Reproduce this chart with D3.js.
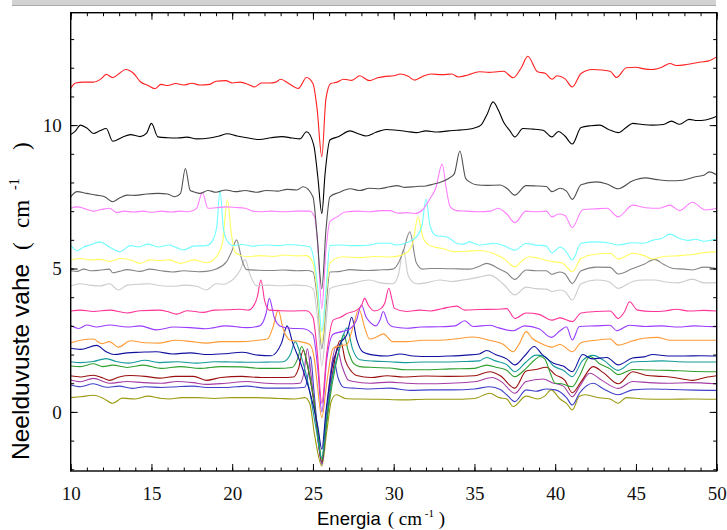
<!DOCTYPE html>
<html>
<head>
<meta charset="utf-8">
<script src="https://cdn.jsdelivr.net/npm/d3@7"></script>
<style>
  html, body { margin: 0; padding: 0; background: #fff; }
  svg { display: block; }
  .serif { font-family: 'Liberation Serif', 'Times New Roman', Times, 'DejaVu Serif', 'Noto Serif', serif; }
  .sans { font-family: 'Liberation Sans', Arial, sans-serif; }
</style>
</head>
<body>
<svg id="chart" width="727" height="530"></svg>
<script>
// ---- Data (energy cm^-1, absorption difference cm^-1) ----
const xTicks = [10, 15, 20, 25, 30, 35, 40, 45, 50];
const yTicks = [0, 5, 10];

const sRed = [[10,11.28],[10.3,11.47],[10.8,11.5],[11.4,11.5],[11.9,11.62],[12.2,11.77],[12.6,11.66],[13.0,11.8],[13.4,11.94],[13.9,11.8],[14.3,11.52],[14.8,11.38],[15.2,11.27],[15.6,11.42],[16.0,11.38],[16.5,11.45],[17.0,11.4],[17.5,11.46],[18.0,11.4],[18.6,11.42],[19.0,11.53],[19.6,11.55],[20.0,11.47],[20.5,11.5],[21.0,11.42],[21.4,11.33],[21.8,11.47],[22.3,11.47],[22.7,11.5],[23.0,11.6],[23.5,11.45],[24.1,11.28],[24.6,11.66],[25.0,11.45],[25.25,10.6],[25.55,8.9],[25.8,10.9],[26.1,11.45],[26.5,11.5],[26.9,11.6],[27.4,11.56],[27.9,11.72],[28.5,11.55],[29.0,11.65],[29.5,11.7],[30.0,11.72],[30.4,11.78],[30.9,11.7],[31.3,11.57],[31.8,11.7],[32.3,11.78],[33.0,11.76],[33.6,11.78],[34.0,11.68],[34.6,11.75],[35.3,11.86],[35.9,11.84],[36.4,11.86],[36.8,11.88],[37.4,11.65],[37.9,12.0],[38.3,12.4],[38.9,11.86],[39.4,11.8],[39.8,11.6],[40.1,11.72],[40.6,11.62],[41.06,11.33],[41.6,11.8],[42.3,11.94],[42.9,11.92],[43.4,11.88],[43.8,11.66],[44.4,12.0],[45.0,12.02],[45.5,11.96],[46.0,11.94],[46.6,12.02],[47.1,12.15],[47.5,12.08],[48.0,12.1],[48.5,12.15],[49.0,12.2],[49.5,12.24],[50,12.38]];
const sBlack = [[10,9.67],[10.3,9.8],[10.6,10.0],[11.0,9.9],[11.4,9.71],[11.8,9.8],[12.2,9.88],[12.6,9.44],[13.2,9.58],[13.7,9.67],[14.3,9.6],[14.7,9.72],[15.0,10.06],[15.4,9.59],[16.0,9.56],[16.6,9.55],[17.2,9.58],[17.8,9.52],[18.6,9.55],[19.2,9.62],[19.7,9.7],[20.3,9.62],[21.0,9.55],[21.7,9.5],[22.4,9.56],[23.1,9.6],[23.7,9.55],[24.2,9.52],[24.6,9.77],[25.05,9.3],[25.3,8.2],[25.55,6.92],[25.75,8.3],[26.05,9.48],[26.6,9.6],[27.3,9.8],[27.8,9.7],[28.3,9.62],[28.9,9.75],[29.55,9.85],[30.2,9.82],[30.8,9.78],[31.4,9.74],[32.0,9.8],[32.7,9.76],[33.4,9.8],[33.9,9.82],[34.5,9.85],[35.0,9.9],[35.4,10.0],[35.8,10.4],[36.15,10.81],[36.5,10.5],[36.8,10.11],[37.2,9.8],[37.5,9.59],[38.0,9.88],[38.6,9.86],[39.25,9.82],[39.8,9.59],[40.2,9.78],[40.6,9.62],[41.06,9.34],[41.6,9.92],[42.2,9.98],[42.75,10.0],[43.3,9.85],[43.9,9.74],[44.4,9.92],[44.8,10.06],[45.4,10.02],[46.0,10.0],[46.7,10.02],[47.2,10.14],[47.7,10.03],[48.3,10.2],[48.8,10.16],[49.3,10.18],[50,10.31]];
const sDarkGrey = [[10,7.5],[10.4,7.68],[11.0,7.62],[11.6,7.56],[12.1,7.5],[12.6,7.33],[13.0,7.45],[13.5,7.56],[14.0,7.55],[14.7,7.6],[15.4,7.62],[16.0,7.6],[16.45,7.5],[16.8,7.62],[17.1,8.49],[17.4,7.72],[17.6,7.68],[18.0,7.62],[18.5,7.72],[19.0,7.66],[19.6,7.74],[20.2,7.68],[20.8,7.72],[21.5,7.66],[22.1,7.72],[22.8,7.7],[23.4,7.76],[24.0,7.74],[24.4,7.85],[25.0,7.5],[25.25,6.2],[25.55,4.3],[25.8,6.3],[26.05,7.5],[26.6,7.65],[27.3,7.78],[27.9,7.72],[28.5,7.8],[29.1,7.78],[29.75,7.85],[30.2,7.89],[30.7,7.83],[31.4,7.86],[32.0,7.88],[32.5,7.95],[32.85,8.0],[33.4,8.14],[33.75,8.3],[34.1,9.1],[34.45,8.15],[34.7,8.02],[35.1,7.92],[35.8,7.9],[36.6,7.91],[37.0,7.8],[37.5,7.56],[38.2,7.89],[38.8,7.88],[39.45,7.86],[39.8,7.68],[40.3,7.8],[40.7,7.7],[41.06,7.41],[41.6,7.92],[42.55,8.02],[43.2,7.95],[43.9,7.78],[44.8,8.06],[45.6,8.16],[46.3,8.1],[47.1,8.06],[47.9,8.08],[48.7,8.2],[49.2,8.25],[49.55,8.37],[50,8.26]];
const sViolet = [[10,7.1],[10.4,7.15],[10.9,7.08],[11.4,7.0],[11.9,7.06],[12.4,7.1],[12.85,6.95],[13.3,7.0],[13.9,6.97],[14.5,7.0],[15.0,6.96],[15.6,7.0],[16.2,6.97],[16.8,7.0],[17.3,6.98],[17.8,7.1],[18.15,7.65],[18.5,7.1],[19.0,7.12],[19.6,7.15],[20.2,7.13],[20.8,7.1],[21.3,7.0],[21.7,6.98],[22.4,7.0],[23.2,6.98],[24.0,7.0],[24.8,7.0],[25.1,6.8],[25.3,5.8],[25.55,3.6],[25.8,5.6],[26.05,6.63],[26.5,6.8],[27.0,6.97],[27.8,7.0],[28.5,6.98],[29.2,7.02],[29.75,7.02],[30.3,6.93],[30.8,6.95],[31.3,6.92],[31.8,7.05],[32.2,7.39],[32.6,7.8],[33.0,8.64],[33.25,7.8],[33.5,7.15],[33.9,7.02],[34.5,7.0],[35.2,6.98],[36.0,7.0],[36.45,7.1],[37.0,6.9],[37.5,6.6],[38.2,7.0],[38.8,6.98],[39.45,7.0],[39.8,6.8],[40.2,6.9],[40.6,6.85],[41.06,6.43],[41.7,7.05],[42.5,7.08],[43.2,7.1],[43.9,6.8],[44.8,7.21],[45.6,7.12],[46.4,7.1],[47.1,7.21],[47.7,7.02],[48.5,7.31],[49.3,7.04],[50,7.1]];
const sCyan = [[10,5.82],[10.4,5.62],[10.8,5.75],[11.2,5.82],[11.8,5.93],[12.4,5.75],[13.05,5.59],[13.7,5.8],[14.2,5.75],[14.8,5.85],[15.4,5.75],[16.1,5.82],[16.6,5.72],[17.0,5.65],[17.6,5.78],[18.4,5.8],[18.8,5.99],[19.05,6.5],[19.25,7.73],[19.45,6.4],[19.7,5.95],[20.05,5.8],[20.6,5.84],[21.3,5.78],[22.0,5.82],[22.8,5.8],[23.6,5.84],[24.3,5.8],[24.8,5.76],[25.1,5.19],[25.3,4.3],[25.55,2.8],[25.8,4.2],[26.05,5.8],[26.7,5.82],[27.3,5.8],[27.9,5.8],[28.6,5.83],[29.1,5.88],[29.75,5.88],[30.2,5.82],[30.8,5.9],[31.4,6.1],[31.75,6.5],[32.0,7.42],[32.25,6.5],[32.6,6.15],[33.3,6.1],[33.9,5.88],[34.3,5.85],[34.7,5.93],[35.3,5.82],[35.9,5.86],[36.15,5.88],[36.8,5.8],[37.5,5.64],[38.2,5.87],[38.8,5.82],[39.45,5.78],[39.8,5.55],[40.3,5.75],[40.6,5.65],[41.06,5.3],[41.6,5.88],[42.55,5.93],[43.4,5.88],[43.9,5.82],[44.8,5.9],[45.5,5.88],[46.05,5.99],[46.6,6.05],[47.1,6.2],[47.7,6.05],[48.2,5.98],[48.7,6.02],[49.2,5.95],[49.75,6.0],[50,6.02]];
const sYellow = [[10,5.3],[10.6,5.35],[11.2,5.3],[11.8,5.32],[12.4,5.25],[13.05,5.35],[13.7,5.3],[14.3,5.18],[14.9,5.3],[15.5,5.28],[16.1,5.3],[16.8,5.18],[17.6,5.3],[18.4,5.2],[19.0,5.4],[19.4,5.9],[19.7,7.4],[19.95,6.2],[20.2,5.55],[20.9,5.41],[21.7,5.45],[22.5,5.42],[23.3,5.47],[24.0,5.44],[24.6,5.45],[25.0,5.2],[25.3,4.0],[25.55,2.4],[25.8,4.0],[26.05,5.2],[26.85,5.41],[27.9,5.38],[28.8,5.42],[29.75,5.4],[30.4,5.45],[30.9,5.6],[31.2,5.93],[31.5,6.8],[31.8,6.1],[32.1,5.85],[32.45,5.76],[33.0,5.7],[33.7,5.59],[34.5,5.6],[35.3,5.63],[36.15,5.53],[36.8,5.35],[37.5,5.06],[38.0,5.3],[38.4,5.41],[39.0,5.35],[39.8,5.24],[40.4,5.2],[41.06,4.89],[41.6,5.35],[42.5,5.5],[43.4,5.53],[43.9,5.33],[44.8,5.53],[45.5,5.45],[46.05,5.33],[46.7,5.42],[47.7,5.45],[48.6,5.5],[49.3,5.56],[50,5.59]];
const sGrey = [[10,4.92],[10.4,4.9],[10.8,4.98],[11.3,4.92],[11.8,4.94],[12.4,4.98],[12.6,4.85],[13.0,4.9],[13.5,4.96],[14.3,4.9],[14.9,4.98],[15.6,4.92],[16.3,4.88],[17.0,4.92],[17.9,4.89],[18.4,4.9],[19.0,4.98],[19.65,5.24],[19.96,5.58],[20.27,6.0],[20.6,5.3],[20.9,4.96],[21.6,4.94],[22.4,4.93],[23.2,4.95],[24.0,4.92],[24.6,4.93],[25.0,4.88],[25.3,3.8],[25.55,2.2],[25.8,3.6],[26.05,4.88],[26.7,4.9],[27.3,4.96],[28.2,4.93],[29.1,4.95],[29.95,4.98],[30.3,5.2],[30.6,5.62],[31.0,6.28],[31.4,5.2],[31.8,4.98],[32.3,5.0],[32.85,5.0],[33.7,4.99],[34.7,4.98],[35.3,5.08],[35.75,5.18],[36.55,4.98],[37.0,4.85],[37.5,4.62],[38.2,4.95],[38.8,4.92],[39.45,4.92],[39.8,4.8],[40.3,4.88],[40.6,4.82],[41.06,4.48],[41.6,4.92],[42.55,5.05],[43.4,5.04],[43.9,4.81],[44.8,5.0],[45.5,5.15],[46.15,5.32],[46.7,5.15],[47.3,5.0],[48.0,4.98],[48.5,4.95],[49.2,5.05],[50,5.0]];
const sLightGrey = [[10,4.39],[10.6,4.47],[11.2,4.42],[11.8,4.39],[12.4,4.47],[12.95,4.25],[13.5,4.42],[14.2,4.45],[14.8,4.47],[15.6,4.4],[16.4,4.38],[17.0,4.42],[17.8,4.38],[18.4,4.25],[19.0,4.47],[19.5,4.45],[19.85,4.54],[20.2,4.7],[20.5,4.95],[20.8,5.32],[21.1,4.8],[21.5,4.4],[22.2,4.42],[23.0,4.4],[23.8,4.42],[24.6,4.4],[25.0,4.3],[25.3,3.2],[25.55,1.6],[25.8,3.0],[26.05,4.3],[26.6,4.4],[27.3,4.47],[27.9,4.55],[28.5,4.6],[29.2,4.5],[29.95,4.47],[30.3,4.8],[30.6,5.67],[30.9,4.75],[31.4,4.47],[32.0,4.5],[32.85,4.6],[33.6,4.55],[34.5,4.62],[35.3,4.7],[35.95,4.77],[36.8,4.45],[37.5,4.08],[38.2,4.35],[38.8,4.3],[39.45,4.28],[39.8,4.2],[40.3,4.25],[40.6,4.2],[41.06,3.9],[41.6,4.47],[42.55,4.6],[43.3,4.55],[43.9,4.31],[44.8,4.55],[45.5,4.6],[46.1,4.6],[47.0,4.52],[47.6,4.5],[48.5,4.63],[49.2,4.5],[50,4.51]];
const sPink = [[10,3.52],[10.6,3.55],[11.4,3.5],[12.4,3.55],[13.5,3.45],[14.3,3.53],[15.5,3.55],[16.0,3.5],[16.55,3.41],[17.2,3.53],[18.2,3.47],[18.9,3.55],[19.7,3.56],[20.5,3.58],[21.0,3.55],[21.3,3.67],[21.55,4.0],[21.78,4.6],[22.0,3.9],[22.3,3.55],[23.0,3.53],[23.8,3.52],[24.6,3.53],[25.0,3.3],[25.25,2.2],[25.55,0.3],[25.85,2.0],[26.25,3.2],[26.7,3.3],[27.1,3.43],[27.7,3.55],[28.0,3.7],[28.2,3.96],[28.45,3.7],[28.8,3.52],[29.2,3.6],[29.45,3.8],[29.7,4.31],[29.9,3.9],[30.05,3.61],[30.8,3.5],[31.6,3.55],[32.25,3.52],[33.0,3.6],[33.9,3.69],[34.4,3.55],[35.3,3.57],[36.4,3.58],[37.0,3.6],[37.5,3.26],[38.2,3.45],[39.0,3.4],[39.8,3.2],[40.3,3.28],[41.06,3.15],[41.6,3.45],[42.5,3.5],[43.4,3.52],[43.9,3.26],[44.3,3.5],[44.6,3.84],[45.1,3.55],[46.0,3.5],[46.8,3.52],[47.5,3.58],[48.3,3.52],[49.2,3.54],[50,3.52]];
const sPurple = [[10,3.01],[10.5,2.91],[11.0,3.03],[11.6,2.96],[12.4,3.03],[13.5,2.96],[14.3,3.0],[15.3,2.86],[16.4,2.96],[17.4,2.94],[18.4,2.9],[19.6,3.0],[20.9,2.94],[21.7,3.0],[22.1,3.44],[22.3,3.96],[22.6,3.3],[22.95,3.0],[23.6,2.92],[24.4,2.9],[25.0,2.7],[25.3,1.5],[25.55,0.0],[25.85,1.8],[26.25,2.71],[26.8,2.8],[27.3,2.9],[27.7,3.2],[28.0,3.73],[28.3,3.3],[28.5,3.15],[28.9,3.0],[29.15,3.2],[29.35,3.5],[29.65,3.1],[29.95,2.97],[30.8,2.92],[31.7,2.96],[32.8,2.97],[33.8,3.0],[34.4,3.18],[34.9,2.98],[35.95,3.02],[36.5,2.93],[37.4,2.83],[38.1,3.0],[39.0,2.9],[39.75,2.6],[40.3,2.83],[40.7,2.97],[41.06,2.51],[41.5,2.98],[42.5,3.0],[43.4,3.02],[43.8,2.83],[44.6,3.02],[45.6,2.98],[46.6,3.0],[47.6,2.96],[48.6,3.0],[49.5,2.98],[50,2.97]];
const sOrange = [[10,2.41],[10.6,2.5],[11.4,2.54],[11.9,2.38],[12.4,2.45],[12.95,2.26],[13.7,2.48],[14.6,2.41],[15.5,2.4],[16.5,2.5],[17.5,2.45],[18.4,2.4],[19.3,2.45],[20.5,2.45],[21.6,2.5],[22.2,2.55],[22.55,3.0],[22.85,3.55],[23.15,2.9],[23.6,2.5],[24.2,2.45],[24.8,2.35],[25.1,1.8],[25.3,0.8],[25.55,-0.2],[25.85,1.0],[26.25,2.22],[26.7,2.3],[27.1,2.35],[27.5,3.0],[27.85,3.58],[28.2,2.95],[28.5,2.54],[28.9,2.6],[29.35,2.72],[29.95,2.45],[30.8,2.45],[31.8,2.5],[32.85,2.5],[33.9,2.55],[34.9,2.61],[35.9,2.5],[36.8,2.35],[37.4,2.1],[37.8,2.4],[38.2,2.8],[38.6,2.55],[39.05,2.41],[39.8,2.26],[40.3,2.35],[41.06,2.1],[41.6,2.41],[42.5,2.5],[43.4,2.54],[43.9,2.33],[44.8,2.48],[45.6,2.58],[46.3,2.6],[47.1,2.5],[48.0,2.5],[49.0,2.5],[50,2.5]];
const sNavy = [[10,2.22],[10.6,2.18],[11.6,2.32],[12.2,2.1],[12.7,2.0],[13.5,2.06],[14.3,2.08],[15.3,2.1],[16.3,2.02],[17.4,2.06],[18.5,2.0],[19.6,2.03],[20.6,2.08],[21.6,1.98],[22.4,1.96],[23.05,2.4],[23.4,3.0],[23.75,2.4],[24.3,1.6],[24.9,0.5],[25.3,-0.5],[25.55,-1.3],[25.8,0.0],[26.2,1.6],[26.7,2.4],[27.1,2.7],[27.4,3.3],[27.7,2.55],[28.1,2.09],[28.8,1.98],[29.6,1.95],[30.4,2.02],[31.2,1.95],[32.3,1.93],[33.5,1.95],[34.5,1.98],[35.3,2.02],[35.75,2.14],[36.3,2.0],[37.0,1.85],[37.5,1.64],[38.1,1.95],[38.7,2.28],[39.2,2.0],[39.9,1.7],[40.5,1.6],[41.06,1.4],[41.7,2.0],[42.3,1.85],[43.2,1.9],[43.9,1.64],[44.8,1.88],[45.5,1.92],[46.05,2.0],[47.0,1.95],[48.0,1.95],[49.0,1.96],[50,1.95]];
const sTeal = [[10,1.75],[10.6,1.72],[11.4,1.76],[12.2,1.86],[12.8,1.76],[13.6,1.7],[14.6,1.8],[15.5,1.72],[16.6,1.75],[17.8,1.7],[18.9,1.75],[20.0,1.74],[21.3,1.73],[22.4,1.74],[23.15,1.75],[23.6,2.0],[23.9,2.45],[24.2,2.05],[24.7,1.0],[25.2,-0.6],[25.55,-1.6],[25.8,-0.3],[26.2,1.2],[26.7,2.3],[27.1,2.93],[27.45,2.2],[27.9,1.82],[28.8,1.77],[29.75,1.75],[30.8,1.72],[31.9,1.74],[33.2,1.74],[34.5,1.76],[35.3,1.78],[35.75,1.9],[36.3,1.78],[37.0,1.65],[37.5,1.4],[38.2,1.74],[38.8,1.98],[39.35,1.93],[39.9,1.6],[40.5,1.45],[41.06,1.23],[41.7,1.8],[42.35,1.97],[43.0,1.8],[43.9,1.45],[44.8,1.74],[45.6,1.76],[46.6,1.78],[47.6,1.75],[48.6,1.74],[50,1.74]];
const sGreen = [[10,1.6],[10.6,1.58],[11.4,1.68],[12.0,1.58],[12.6,1.63],[13.5,1.55],[14.5,1.63],[15.6,1.52],[16.8,1.58],[18.0,1.52],[19.3,1.58],[20.6,1.57],[21.7,1.52],[22.8,1.52],[23.7,1.55],[24.05,1.85],[24.3,2.28],[24.6,1.8],[25.0,0.6],[25.35,-0.9],[25.55,-1.7],[25.8,-0.6],[26.2,1.0],[26.6,2.1],[26.9,2.7],[27.2,2.1],[27.5,1.7],[27.9,1.58],[28.8,1.55],[29.75,1.53],[30.8,1.47],[32.0,1.47],[33.5,1.5],[35.0,1.52],[35.75,1.63],[36.4,1.55],[37.0,1.45],[37.5,1.23],[38.2,1.52],[38.7,1.8],[39.05,1.93],[39.35,1.85],[39.7,1.35],[40.0,1.0],[40.4,0.98],[41.06,0.88],[41.5,1.25],[42.15,1.93],[42.8,1.66],[43.4,1.5],[43.9,1.3],[44.8,1.48],[45.8,1.46],[47.0,1.45],[48.3,1.42],[50,1.4]];
const sDarkRed = [[10,1.26],[10.6,1.22],[11.4,1.28],[12.0,1.18],[12.4,1.1],[13.0,1.22],[13.7,1.27],[14.6,1.24],[15.5,1.18],[16.5,1.24],[17.6,1.24],[18.4,1.1],[19.3,1.2],[20.6,1.24],[21.8,1.2],[23.0,1.2],[23.8,1.22],[24.1,1.5],[24.4,2.16],[24.7,1.5],[25.1,0.2],[25.55,-1.75],[25.8,-0.5],[26.2,1.3],[26.7,2.5],[27.0,1.8],[27.4,1.4],[27.7,1.27],[28.6,1.2],[29.6,1.26],[30.6,1.22],[32.0,1.25],[33.5,1.24],[35.0,1.26],[35.95,1.4],[36.6,1.26],[37.5,0.83],[38.2,1.43],[38.8,1.48],[39.45,1.56],[40.0,1.3],[40.6,1.1],[41.06,0.67],[41.6,1.05],[42.35,1.58],[43.0,1.36],[43.9,0.98],[44.8,1.4],[45.6,1.28],[46.5,1.24],[47.1,1.22],[48.5,1.1],[49.3,1.2],[50,1.26]];
const sMagenta = [[10,1.11],[10.6,1.05],[11.4,1.17],[12.4,1.0],[13.5,1.06],[14.5,1.02],[15.6,1.0],[16.6,1.06],[17.6,1.02],[18.4,0.96],[19.6,1.0],[20.9,1.06],[22.1,1.0],[23.4,0.98],[24.2,1.0],[24.45,1.4],[24.65,2.2],[24.9,1.2],[25.2,-0.4],[25.55,-1.8],[25.8,-0.3],[26.1,1.4],[26.45,2.3],[26.8,1.6],[27.2,1.1],[27.5,1.06],[28.5,1.0],[29.75,1.04],[30.8,1.0],[32.0,0.98],[33.5,1.0],[35.0,1.05],[36.1,1.2],[36.7,1.04],[37.5,0.65],[38.2,1.06],[39.25,1.15],[39.8,1.02],[40.5,0.9],[41.06,0.53],[41.5,0.88],[42.15,1.35],[42.9,1.1],[43.9,0.82],[44.8,1.06],[45.8,1.02],[47.0,1.0],[48.3,1.02],[50,0.98]];
const sBlue = [[10,0.94],[10.6,0.88],[11.4,0.98],[12.2,0.86],[13.0,0.9],[13.8,0.82],[14.6,0.88],[15.6,0.85],[16.6,0.88],[17.6,0.9],[18.4,0.85],[19.6,0.85],[20.9,0.9],[22.1,0.83],[23.5,0.83],[24.5,0.86],[24.7,1.3],[24.85,1.93],[25.05,0.8],[25.3,-0.7],[25.55,-1.82],[25.8,-0.6],[26.05,0.9],[26.25,1.9],[26.55,1.2],[26.9,0.86],[27.5,0.83],[28.5,0.8],[29.75,0.83],[31.0,0.75],[32.3,0.77],[33.6,0.77],[35.0,0.8],[35.95,0.88],[36.6,0.78],[37.0,0.6],[37.5,0.36],[38.2,0.77],[38.8,0.72],[39.45,0.8],[40.0,0.77],[40.7,0.5],[41.06,0.24],[41.5,0.65],[42.35,1.0],[43.0,0.8],[43.9,0.6],[44.8,0.77],[46.0,0.8],[47.3,0.78],[48.6,0.76],[50,0.75]];
const sOlive = [[10,0.5],[10.6,0.53],[11.4,0.58],[12.0,0.48],[12.6,0.3],[13.2,0.48],[14.0,0.45],[14.8,0.55],[15.5,0.48],[16.1,0.45],[16.9,0.5],[17.8,0.5],[18.9,0.47],[20.0,0.5],[21.5,0.5],[22.9,0.47],[23.9,0.45],[24.5,0.5],[24.8,0.3],[25.1,-0.8],[25.55,-1.88],[25.85,-0.7],[26.15,0.4],[26.45,0.6],[27.0,0.47],[28.0,0.45],[29.2,0.44],[30.5,0.42],[32.0,0.44],[33.5,0.44],[35.0,0.47],[35.95,0.65],[36.5,0.5],[37.0,0.45],[37.4,0.19],[38.2,0.55],[38.9,0.45],[39.35,0.55],[39.75,0.77],[40.3,0.45],[40.7,0.3],[41.06,0.07],[41.5,0.55],[41.9,0.6],[42.6,0.5],[43.4,0.45],[43.9,0.3],[44.4,0.5],[45.5,0.45],[47.0,0.44],[48.5,0.45],[50,0.44]];

const seriesList = [sOlive, sBlue, sMagenta, sDarkRed, sGreen, sTeal, sNavy, sOrange, sPurple, sPink,
                    sLightGrey, sGrey, sYellow, sCyan, sViolet, sDarkGrey, sBlack, sRed];
const seriesColors = ['#9a9a10', '#4040c8', '#a53ca5', '#9a1010', '#2f9f2f', '#159a9a', '#10109f', '#ff9a35', '#9a3cff', '#ff3399',
                      '#cccccc', '#858585', '#ffff60', '#70ffff', '#ff7dff', '#505050', '#000000', '#ff2020'];

// ---- Layout ----
const svg = d3.select('#chart');
const plot = { left: 70.7, right: 716.7, top: 12.7, bottom: 471 };

// window title strip
svg.append('rect').attr('x', 12).attr('y', 0).attr('width', 704).attr('height', 5.5).attr('fill', '#d2d2d2');
svg.append('line').attr('x1', 12).attr('x2', 716).attr('y1', 5.5).attr('y2', 5.5).attr('stroke', '#a9a9a9');

const x = d3.scaleLinear().domain([10, 50]).range([plot.left, plot.right]);
const y = d3.scaleLinear().domain([-2.06, 13.92]).range([plot.bottom, plot.top]);

svg.append('defs').append('clipPath').attr('id', 'clip')
  .append('rect').attr('x', plot.left).attr('y', plot.top)
  .attr('width', plot.right - plot.left).attr('height', plot.bottom - plot.top);

// ---- Lines ----
const line = d3.line().x(d => x(d[0])).y(d => y(d[1])).curve(d3.curveMonotoneX);
svg.append('g').attr('clip-path', 'url(#clip)')
  .selectAll('path').data(seriesList).join('path')
  .attr('fill', 'none')
  .attr('stroke', (d, i) => seriesColors[i])
  .attr('stroke-width', 1.1)
  .attr('stroke-linejoin', 'round')
  .attr('d', line);

// ---- Axes (ticks inward) ----
const xMinor = d3.range(10, 51, 1);
const yMinor = d3.range(-2, 14, 1);
const noLab = () => '';

function styleAxis(g) {
  g.select('.domain').remove();
  g.attr('font-family', null).attr('font-size', null);
  g.selectAll('.tick line').attr('stroke', '#000').attr('stroke-width', 1);
}
function styleLabels(g) {
  g.selectAll('text').attr('class', 'serif').style('font-size', '19px').attr('fill', '#111');
}

svg.append('g').attr('transform', `translate(0,${plot.bottom})`)
  .call(d3.axisBottom(x).tickValues(xMinor).tickSize(-3.5).tickFormat(noLab)).call(styleAxis);
svg.append('g').attr('transform', `translate(0,${plot.bottom})`)
  .call(d3.axisBottom(x).tickValues(xTicks).tickSize(-7).tickPadding(16).tickFormat(d3.format('d')))
  .call(styleAxis).call(styleLabels);
svg.append('g').attr('transform', `translate(0,${plot.top})`)
  .call(d3.axisTop(x).tickValues(xMinor).tickSize(-3.5).tickFormat(noLab)).call(styleAxis);
svg.append('g').attr('transform', `translate(0,${plot.top})`)
  .call(d3.axisTop(x).tickValues(xTicks).tickSize(-7).tickFormat(noLab)).call(styleAxis);

svg.append('g').attr('transform', `translate(${plot.left},0)`)
  .call(d3.axisLeft(y).tickValues(yMinor).tickSize(-3.5).tickFormat(noLab)).call(styleAxis);
svg.append('g').attr('transform', `translate(${plot.left},0)`)
  .call(d3.axisLeft(y).tickValues(yTicks).tickSize(-7).tickPadding(9).tickFormat(d3.format('d')))
  .call(styleAxis).call(styleLabels);
svg.append('g').attr('transform', `translate(${plot.right},0)`)
  .call(d3.axisRight(y).tickValues(yMinor).tickSize(-3.5).tickFormat(noLab)).call(styleAxis);
svg.append('g').attr('transform', `translate(${plot.right},0)`)
  .call(d3.axisRight(y).tickValues(yTicks).tickSize(-7).tickFormat(noLab)).call(styleAxis);

// frame
svg.append('rect')
  .attr('x', plot.left).attr('y', plot.top)
  .attr('width', plot.right - plot.left).attr('height', plot.bottom - plot.top)
  .attr('fill', 'none').attr('stroke', '#000').attr('stroke-width', 1.4);

// ---- Axis titles ----
svg.append('text').attr('class', 'sans').attr('x', 317).attr('y', 525)
  .style('font-size', '18.5px').attr('fill', '#000')
  .text('Energia');
const xu = svg.append('text').attr('class', 'serif').attr('x', 445).attr('y', 525).attr('text-anchor', 'end')
  .style('font-size', '19px').attr('fill', '#000');
xu.append('tspan').text('( cm');
xu.append('tspan').attr('dy', -8).style('font-size', '11px').text(' -1');
xu.append('tspan').attr('dy', 8).text(' )');

const yt = svg.append('g').attr('transform', 'translate(29,0) rotate(-90)');
yt.append('text').attr('class', 'sans').attr('x', -460).attr('y', 0)
  .style('font-size', '24.5px').attr('fill', '#000')
  .text('Neelduvuste vahe');
const yu = yt.append('text').attr('class', 'serif').attr('x', -250).attr('y', 0)
  .style('font-size', '23px').attr('fill', '#000');
yu.append('tspan').text('(');
yu.append('tspan').attr('x', -228).text('cm');
yu.append('tspan').attr('x', -190).attr('dy', -10).style('font-size', '14px').text('-1');
yu.append('tspan').attr('x', -150).attr('dy', 10).text(')');
</script>
</body>
</html>
